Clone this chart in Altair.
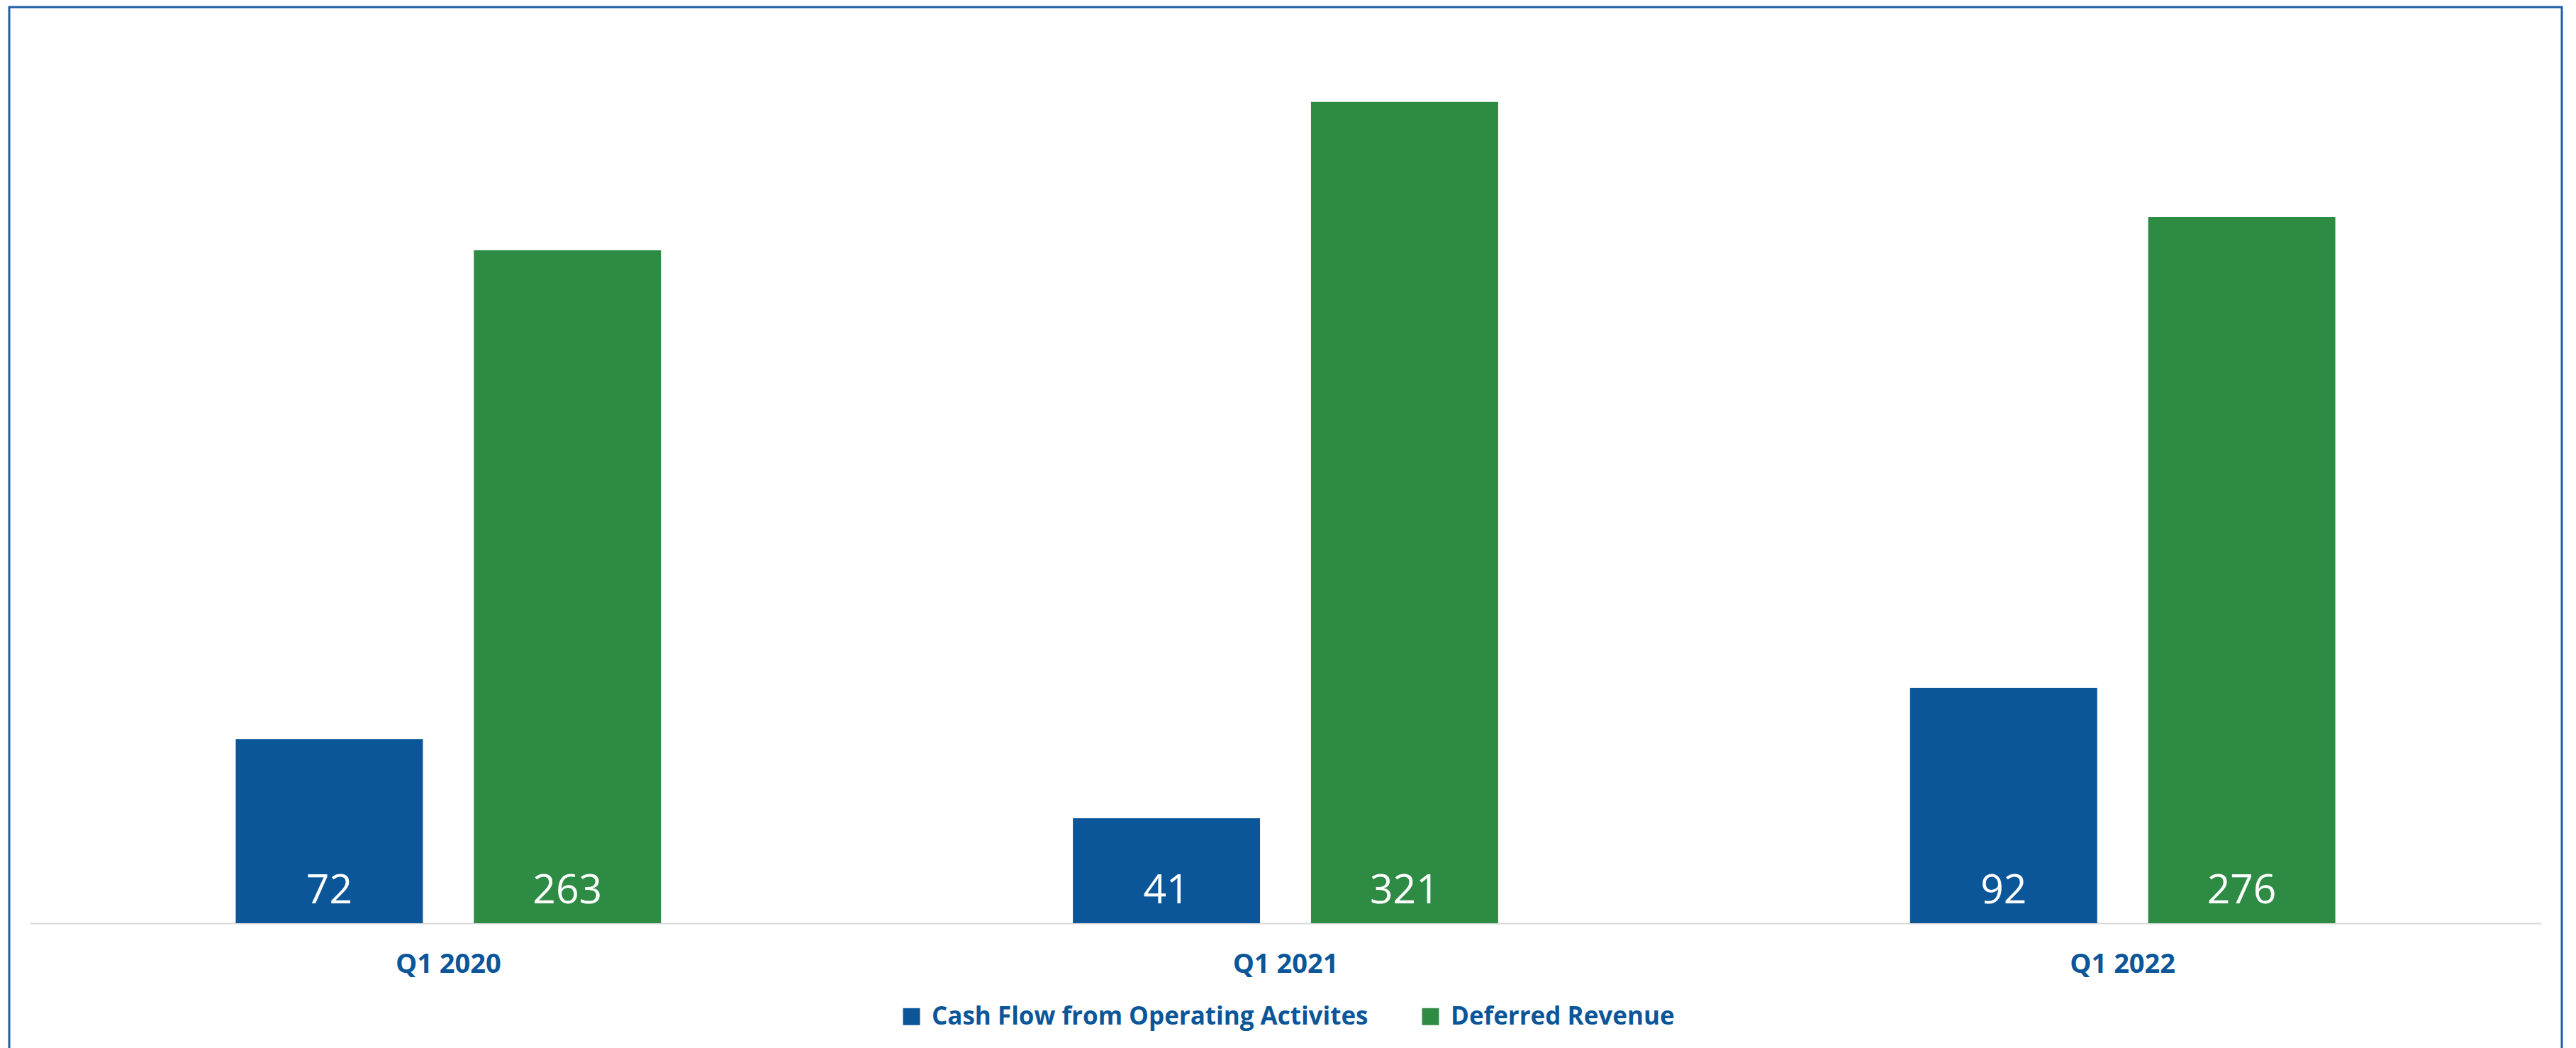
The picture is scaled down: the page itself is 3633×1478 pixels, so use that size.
import altair as alt
import pandas as pd

quarters = ["Q1 2020", "Q1 2021", "Q1 2022"]
series_names = ["Cash Flow from Operating Activites", "Deferred Revenue"]
cash_flow = [72, 41, 92]
deferred_revenue = [263, 321, 276]
series_colors = ["#0B5699", "#2E8B44"]

rows = []
for q, c, d in zip(quarters, cash_flow, deferred_revenue):
    rows.append({"quarter": q, "series": series_names[0], "value": c})
    rows.append({"quarter": q, "series": series_names[1], "value": d})
df = pd.DataFrame(rows)

BLUE = "#0B5699"
FONT = "Open Sans"

x_enc = alt.X(
    "quarter:N",
    sort=quarters,
    scale=alt.Scale(paddingInner=0.492, paddingOuter=0.246),
    axis=alt.Axis(
        title=None,
        labelAngle=0,
        ticks=False,
        domainColor="#D9D9D9",
        domainWidth=2,
        labelFont=FONT,
        labelFontSize=38,
        labelFontWeight="bold",
        labelColor=BLUE,
        labelPadding=39,
        grid=False,
    ),
)
xoff_enc = alt.XOffset(
    "series:N",
    sort=series_names,
    scale=alt.Scale(paddingInner=0.214, paddingOuter=0),
)

base = alt.Chart(df)

bars = base.mark_bar().encode(
    x=x_enc,
    xOffset=xoff_enc,
    y=alt.Y("value:Q", scale=alt.Scale(domain=[0, 350], nice=False, zero=True), axis=None),
    color=alt.Color(
        "series:N",
        sort=series_names,
        scale=alt.Scale(domain=series_names, range=series_colors),
        legend=alt.Legend(
            title=None,
            orient="none",
            legendX=1226,
            legendY=1377,
            direction="horizontal",
            symbolType="square",
            symbolSize=576,
            symbolStrokeWidth=0,
            labelFont=FONT,
            labelFontSize=35,
            labelFontWeight="bold",
            labelColor=BLUE,
            labelOffset=11,
            labelLimit=2000,
            columnPadding=70,
            padding=0,
        ),
    ),
)

labels = base.mark_text(
    color="white",
    font=FONT,
    fontSize=57,
    baseline="alphabetic",
    align="center",
    dy=-28,
).encode(
    x=x_enc,
    xOffset=xoff_enc,
    y=alt.datum(0),
    text=alt.Text("value:Q"),
)

frame = alt.Chart(pd.DataFrame({"k": [0]})).mark_rect(
    fill=None, stroke="#1F5FA8", strokeWidth=3
).encode(
    x=alt.value(-29),
    x2=alt.value(3571),
    y=alt.value(-29),
    y2=alt.value(1560),
)

chart = (
    alt.layer(bars, labels, frame)
    .properties(
        width=3542,
        height=1263,
        padding={"left": 42, "top": 39, "right": 49, "bottom": 176},
        autosize=alt.AutoSizeParams(type="none"),
        background="white",
    )
    .configure_view(stroke=None)
)

chart.save("out.html", embed_options={"renderer": "svg", "actions": False})
